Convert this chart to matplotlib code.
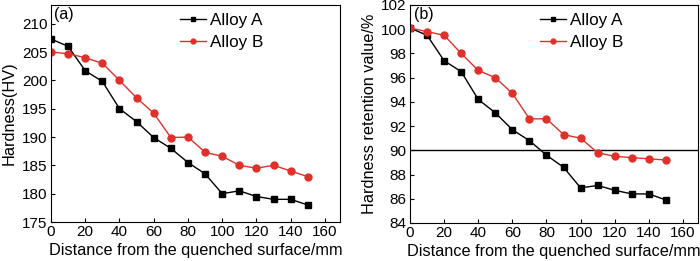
#!/usr/bin/env python3
import matplotlib
matplotlib.use("Agg")
import matplotlib.pyplot as plt

# distance from the quenched surface, mm
distance = [0, 10, 20, 30, 40, 50, 60, 70, 80, 90, 100, 110, 120, 130, 140, 150]

# (a) hardness, HV
hardness_a = [207.3, 206.0, 201.7, 199.8, 195.0, 192.7, 189.9, 188.0,
              185.5, 183.5, 180.0, 180.5, 179.5, 179.0, 179.0, 178.0]
hardness_b = [205.0, 204.7, 204.0, 203.0, 200.0, 196.9, 194.2, 189.9,
              190.0, 187.3, 186.6, 185.0, 184.5, 185.0, 184.0, 183.0]

# (b) hardness retention value, %
retention_a = [100.1, 99.5, 97.4, 96.5, 94.2, 93.1, 91.7, 90.8,
               89.6, 88.6, 86.9, 87.1, 86.7, 86.4, 86.4, 85.9]
retention_b = [100.1, 99.8, 99.5, 98.0, 96.6, 96.0, 94.7, 92.6,
               92.6, 91.3, 91.0, 89.8, 89.5, 89.4, 89.3, 89.2]
retention_limit = 90

plt.rcParams['font.family'] = ['Liberation Sans', 'DejaVu Sans']

fig = plt.figure(figsize=(7, 2.61), dpi=100)
ax1 = fig.add_axes([51 / 700, 39 / 261, 289 / 700, 217 / 261])
ax2 = fig.add_axes([410 / 700, 38 / 261, 288 / 700, 218 / 261])

red = '#e0302a'


def style(ax, legend_x):
    ax.tick_params(direction='in', labelsize=11, length=3, pad=2.5)
    ax.set_xlim(0, 168.8)
    ax.set_xticks(range(0, 161, 20))
    ax.set_xlabel("Distance from the quenched surface/mm", fontsize=11.7, labelpad=2.5)
    for s in ax.spines.values():
        s.set_linewidth(0.8)
    ax.legend(loc='upper left', bbox_to_anchor=(legend_x, 0.965), frameon=False,
              fontsize=12.3, handlelength=1.5, handletextpad=0.25,
              labelspacing=0.42, borderaxespad=0, borderpad=0, markerscale=0.7)


ax1.plot(distance, hardness_a, '-s', color='black', lw=1, ms=4, label='Alloy A')
ax1.plot(distance, hardness_b, '-o', color=red, lw=1, ms=5, label='Alloy B')
ax1.set_ylim(175, 213.3)
ax1.set_yticks(range(175, 211, 5))
ax1.set_ylabel("Hardness(HV)", fontsize=11.7, labelpad=4)
ax1.text(0.012, 0.99, "(a)", transform=ax1.transAxes, fontsize=11.5, va='top')
style(ax1, 0.446)

ax2.axhline(retention_limit, color='black', lw=1)
ax2.plot(distance, retention_a, '-s', color='black', lw=1, ms=4, label='Alloy A')
ax2.plot(distance, retention_b, '-o', color=red, lw=1, ms=5, label='Alloy B')
ax2.set_ylim(84, 102)
ax2.set_yticks(range(84, 103, 2))
ax2.set_ylabel("Hardness retention value/%", fontsize=11.7, labelpad=3)
ax2.text(0.015, 0.99, "(b)", transform=ax2.transAxes, fontsize=11.5, va='top')
style(ax2, 0.451)

fig.savefig("out.png", dpi=100)
